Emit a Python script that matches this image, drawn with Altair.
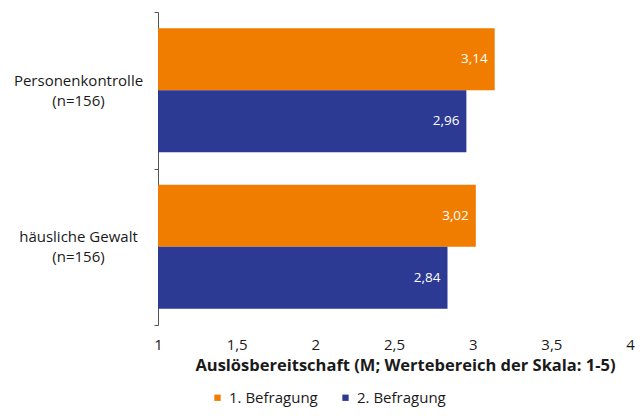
import altair as alt
import pandas as pd

categories = ["Personenkontrolle|(n=156)", "häusliche Gewalt|(n=156)"]
series = ["1. Befragung", "2. Befragung"]
values_1 = [3.14, 3.02]
values_2 = [2.96, 2.84]
colors = ["#F07D00", "#2D3A94"]
x_ticks = [1, 1.5, 2, 2.5, 3, 3.5, 4]

rows = []
for c, v1, v2 in zip(categories, values_1, values_2):
    rows.append({"cat": c, "serie": series[0], "val": v1})
    rows.append({"cat": c, "serie": series[1], "val": v2})
df = pd.DataFrame(rows)
df["lbl"] = df["val"].map(lambda v: f"{v:.2f}".replace(".", ","))

FONT = "Open Sans"

y_enc = alt.Y("cat:N", sort=categories, title=None,
              scale=alt.Scale(paddingInner=0, paddingOuter=0),
              axis=alt.Axis(labelExpr="split(datum.label, '|')", labelAlign="center",
                            labelBaseline="middle", labelPadding=76, labelOffset=-10,
                            tickSize=4, tickBand="extent", domainColor="#555555",
                            tickColor="#555555", labelFont=FONT, labelFontSize=15,
                            labelColor="#1a1a1a", labelLineHeight=20))
yoff = alt.YOffset("serie:N", sort=series,
                   scale=alt.Scale(paddingOuter=0.26, paddingInner=0))
x_enc = alt.X("val:Q", title="Auslösbereitschaft (M; Wertebereich der Skala: 1-5)",
              scale=alt.Scale(domain=[1, 4], nice=False, zero=False),
              axis=alt.Axis(values=x_ticks,
                            labelExpr="replace(format(datum.value, '~g'), '.', ',')",
                            domain=False, ticks=False, grid=False, labelPadding=12,
                            labelFont=FONT, labelFontSize=15, labelColor="#1a1a1a",
                            titleFont=FONT, titleFontSize=16.5, titleFontWeight="bold",
                            titleColor="#1a1a1a", titlePadding=5, labelFlush=False,
                            titleX=247, titleAlign="center"))

bars = alt.Chart(df).mark_bar().encode(
    x=x_enc, x2=alt.X2(datum=1), y=y_enc, yOffset=yoff,
    color=alt.Color("serie:N", sort=series,
                    scale=alt.Scale(domain=series, range=colors),
                    legend=alt.Legend(title=None, orient="none", legendX=52, legendY=378,
                                      direction="horizontal", symbolType="square",
                                      symbolSize=40, labelFont=FONT, labelFontSize=15,
                                      labelColor="#1a1a1a", columnPadding=20,
                                      symbolStrokeWidth=0)),
)

text = alt.Chart(df).mark_text(align="right", baseline="middle", dx=-7, color="white",
                               font=FONT, fontSize=13.5).encode(
    x=alt.X("val:Q"), y=alt.Y("cat:N", sort=categories), yOffset=yoff, text="lbl:N")

chart = alt.layer(bars, text).properties(
    width=472, height=313,
    autosize=alt.AutoSizeParams(type="none"),
    padding={"left": 150, "top": 4, "right": 5, "bottom": 83},
    background="white",
).configure_view(stroke=None)

chart.save("out.html", embed_options={"renderer": "svg", "actions": False})
